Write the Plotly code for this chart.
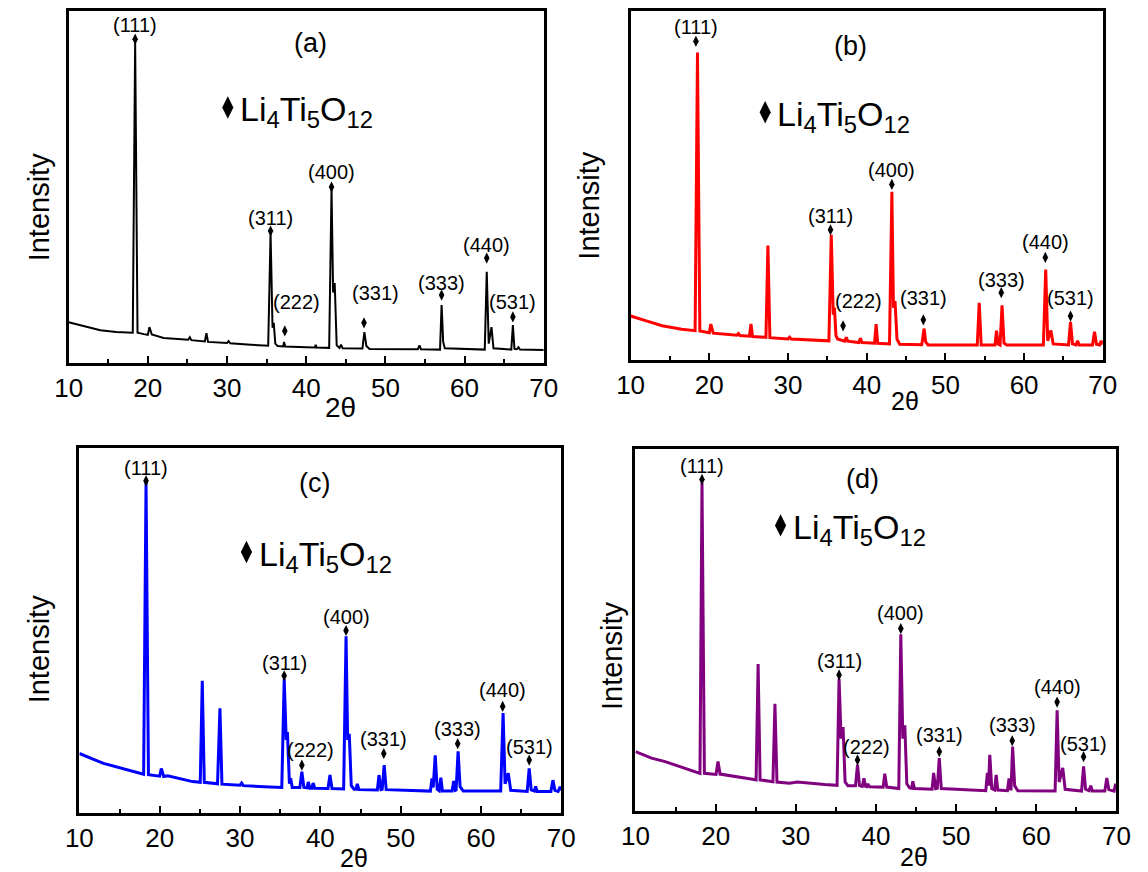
import plotly.graph_objects as go

W, H = 1148, 872

# ---------------- data (2-theta in degrees, intensity in a.u., 0-100 per panel) ----------------
tt_a = [10, 11, 12, 14, 16, 17.9, 18.1, 18.4, 18.7, 19.5, 20.0, 20.2, 20.5, 22, 25.1, 25.3, 25.5,
        27.2, 27.4, 27.6, 30.0, 30.2, 30.4, 33, 35.2, 35.5, 35.75, 35.9, 36.1, 36.4, 37.1, 37.2, 37.35,
        40, 41.1, 41.2, 41.3, 42.9, 43.2, 43.4, 43.6, 43.85, 44.2, 44.4, 44.6, 47.1, 47.35, 47.6, 48,
        54.1, 54.3, 54.5, 56.9, 57.1, 57.3, 57.5, 62.55, 62.8, 63.05, 63.4, 63.65, 65.9, 66.1, 66.3,
        66.6, 66.8, 67.0, 70]
int_a = [11.6, 11.0, 10.3, 9.3, 8.8, 8.5, 8.6, 91.2, 8.6, 8.2, 8.0, 10.2, 8.1, 7.1, 6.6, 7.3, 6.5,
         6.1, 8.5, 6.0, 5.7, 6.2, 5.6, 5.2, 4.9, 36.9, 10.0, 11.4, 5.5, 4.8, 4.7, 6.0, 4.7,
         4.5, 4.4, 5.2, 4.4, 4.3, 49.7, 20.0, 22.7, 5.0, 4.3, 5.2, 4.2, 4.1, 8.8, 4.8, 4.0,
         3.9, 5.0, 3.9, 3.8, 16.5, 6.0, 4.2, 3.8, 25.9, 5.5, 10.2, 4.2, 3.8, 10.8, 4.0,
         3.9, 4.5, 3.8, 3.7]

tt_b = [10, 11, 12, 14, 16.5, 18.2, 18.5, 18.8, 20.0, 20.2, 20.5, 23.5, 23.7, 23.9, 25.1, 25.3, 25.5,
        27.2, 27.45, 27.7, 30.0, 30.2, 30.4, 35.2, 35.5, 35.75, 35.9, 36.1, 36.3, 37.2, 37.4, 37.6,
        39.0, 39.2, 39.4, 41.0, 41.2, 41.4, 42.9, 43.2, 43.4, 43.6, 43.85, 44.2, 47.0, 47.3, 47.5, 47.8,
        54.05, 54.3, 54.55, 56.3, 56.5, 56.7, 56.95, 57.2, 57.45, 57.8, 62.45, 62.75, 63.0, 63.4, 63.7,
        65.65, 65.9, 66.15, 66.6, 66.8, 67.0, 68.7, 68.95, 69.2, 69.6, 69.8, 70]
int_b = [12.6, 11.8, 11.2, 9.8, 8.8, 8.4, 88.1, 8.3, 7.8, 10.3, 7.7, 7.1, 7.6, 7.0, 6.8, 10.3, 6.7,
         6.5, 32.8, 6.4, 6.0, 6.5, 6.0, 5.5, 35.9, 13.0, 15.0, 7.0, 6.0, 5.4, 6.5, 5.4,
         5.0, 6.2, 5.0, 4.8, 10.3, 4.8, 4.6, 48.2, 15.0, 16.9, 6.0, 4.5, 4.4, 9.0, 5.2, 4.3,
         4.3, 16.4, 4.3, 4.3, 8.4, 4.6, 4.3, 15.7, 4.8, 4.3, 4.3, 25.9, 5.5, 8.5, 4.6,
         4.3, 10.9, 4.6, 4.3, 5.5, 4.3, 4.3, 8.1, 4.5, 4.3, 5.5, 4.5]

tt_c = [10, 11, 12, 13, 15.2, 17.4, 18.0, 18.3, 18.6, 20.0, 20.2, 20.5, 21.0, 24.1, 25.05, 25.3, 25.55,
        27.2, 27.5, 27.75, 30.0, 30.2, 30.4, 33, 35.2, 35.5, 35.75, 35.9, 36.15, 36.3, 36.5,
        37.45, 37.7, 37.95, 38.35, 38.5, 38.7, 38.95, 39.1, 39.3, 40.95, 41.2, 41.45,
        42.9, 43.2, 43.4, 43.6, 43.85, 44.2, 44.45, 44.6, 44.8, 47.1, 47.3, 47.55, 47.7, 47.95, 48.2,
        53.7, 53.9, 54.05, 54.3, 54.55, 54.8, 55.0, 55.2, 56.4, 56.6, 56.8, 56.9, 57.15, 57.4, 57.8,
        62.45, 62.75, 63.0, 63.4, 63.7, 65.75, 66.0, 66.25, 66.65, 66.8, 67.0, 68.7, 68.95, 69.2,
        69.6, 69.85, 70]
int_c = [16.3, 15.3, 14.5, 13.6, 12.2, 10.9, 10.6, 90.5, 10.5, 10.1, 12.2, 10.0, 10.2, 8.6, 8.4, 36.2, 8.4,
         8.0, 28.7, 7.9, 7.6, 8.2, 7.5, 7.2, 7.0, 36.7, 20.0, 22.2, 8.0, 9.5, 7.0,
         7.0, 11.3, 7.0, 6.9, 8.5, 6.8, 6.8, 8.2, 6.8, 6.7, 10.4, 6.7,
         6.6, 48.4, 20.0, 21.7, 7.5, 6.5, 6.5, 8.0, 6.4, 6.3, 10.4, 6.4, 6.5, 13.1, 6.4,
         6.0, 9.5, 7.0, 15.8, 6.5, 6.1, 9.7, 6.0, 6.0, 8.8, 6.2, 6.3, 16.9, 7.2, 6.0,
         6.0, 27.4, 8.0, 10.9, 6.2, 5.9, 12.2, 6.3, 6.0, 7.3, 5.9, 5.9, 9.0, 6.2,
         5.9, 7.2, 6.2]

tt_d = [10, 11, 12, 13.6, 15.9, 17.9, 18.05, 18.3, 18.6, 20.05, 20.3, 20.55, 21.2, 24.8, 25.05, 25.3, 25.55,
        27.15, 27.4, 27.65, 29.2, 30.2, 33.6, 35.15, 35.4, 35.65, 35.9, 36.15, 36.5, 37.45, 37.7, 37.95,
        38.3, 38.5, 38.7, 38.85, 39.0, 39.2, 40.9, 41.1, 41.35, 42.85, 43.1, 43.35, 43.6, 43.85, 44.2,
        44.45, 44.6, 44.8, 47.0, 47.2, 47.45, 47.65, 47.9, 48.15, 53.7, 53.9, 54.05, 54.2, 54.45, 54.8,
        55.0, 55.2, 56.4, 56.6, 56.8, 56.85, 57.05, 57.3, 57.7, 62.35, 62.6, 62.85, 63.3, 63.6,
        65.65, 65.9, 66.15, 66.6, 66.8, 67.0, 68.55, 68.8, 69.05, 69.7, 69.9, 70]
int_d = [16.4, 15.4, 14.6, 13.7, 11.9, 10.5, 10.4, 90.7, 10.4, 10.1, 13.7, 10.2, 10.0, 8.7, 8.6, 40.6, 8.6,
         8.1, 29.6, 8.0, 7.7, 8.0, 7.3, 7.1, 36.5, 20.0, 23.2, 8.0, 7.0, 7.0, 12.8, 7.0,
         6.8, 9.0, 6.8, 6.7, 7.5, 6.7, 6.6, 10.3, 6.6, 6.2, 48.8, 20.0, 23.7, 7.5, 6.4,
         6.3, 8.2, 6.2, 6.0, 10.5, 6.2, 6.3, 14.6, 6.2, 5.6, 10.5, 7.0, 15.5, 6.2, 5.8,
         10.0, 5.8, 5.6, 9.0, 5.8, 6.0, 17.8, 7.0, 5.6, 5.5, 27.8, 8.0, 11.9, 6.0,
         5.5, 12.3, 6.0, 5.6, 7.0, 5.5, 5.5, 9.1, 5.9, 5.5, 7.5, 6.5]

# Li4Ti5O12 reflections (diamond markers)
hkl = ["(111)", "(311)", "(222)", "(400)", "(331)", "(333)", "(440)", "(531)"]
mark_tt_a = [18.4, 35.5, 37.3, 43.2, 47.3, 57.1, 62.8, 66.1]
mark_int_a = [92.0, 37.5, 9.1, 50.0, 11.4, 19.3, 29.8, 13.1]
mark_tt_b = [18.3, 35.4, 37.0, 43.2, 47.2, 57.1, 62.7, 65.9]
mark_int_b = [91.3, 37.3, 9.8, 50.3, 11.5, 19.3, 29.4, 12.6]
mark_tt_c = [18.3, 35.5, 37.7, 43.2, 47.9, 57.1, 62.7, 66.0]
mark_int_c = [91.0, 37.6, 13.1, 50.0, 16.3, 19.0, 29.2, 14.5]
mark_tt_d = [18.3, 35.4, 37.7, 43.1, 47.9, 57.0, 62.6, 65.9]
mark_int_d = [91.6, 37.6, 14.1, 50.4, 16.4, 19.4, 30.1, 15.0]

panel_tags = ["(a)", "(b)", "(c)", "(d)"]
phase_name = "Li<sub>4</sub>Ti<sub>5</sub>O<sub>12</sub>"
x_title = "2θ"
y_title = "Intensity"
x_ticks = [10, 20, 30, 40, 50, 60, 70]

# ---------------- layout / style ----------------
FONT = "Arial, Liberation Sans, sans-serif"


def px_x(p):
    return p / W


def px_y(p):
    return 1 - p / H


panels = [
    dict(tt=tt_a, I=int_a, mx=mark_tt_a, my=mark_int_a, color="#000000", lw=2,
         box=(56, 543, 11, 363),
         lab_dx=[0, 0, 12, 0, 11, 0, 0, 0], lab_dy=[14, 13, 29, 15, 30, 12, 13, 15],
         tag_pos=(40.6, 91.0), leg_dia=(30.1, 72.6), leg_txt=(31.4, 72.6),
         xt=(335, 407, 28), yt=(26, 207)),
    dict(tt=tt_b, I=int_b, mx=mark_tt_b, my=mark_int_b, color="#ff0000", lw=3,
         box=(632, 1116, 11, 360),
         lab_dx=[0, 0, 15, 0, 0, 0, 0, 0], lab_dy=[14, 14, 25, 14, 22, 13, 15, 18],
         tag_pos=(37.9, 90.0), leg_dia=(27.1, 71.0), leg_txt=(28.4, 71.0),
         xt=(913, 401, 25), yt=(589, 205)),
    dict(tt=tt_c, I=int_c, mx=mark_tt_c, my=mark_int_c, color="#0000ff", lw=3,
         box=(67, 561, 448, 813),
         lab_dx=[0, 0, 9, 0, 0, 0, 0, 0], lab_dy=[13, 13, 15, 14, 15, 15, 16, 13],
         tag_pos=(39.3, 90.5), leg_dia=(30.8, 71.5), leg_txt=(32.1, 71.5),
         xt=(349, 858, 25), yt=(26, 649)),
    dict(tt=tt_d, I=int_d, mx=mark_tt_d, my=mark_int_d, color="#800080", lw=3,
         box=(637, 1130, 449, 811),
         lab_dx=[0, 0, 9, 0, 0, 0, 0, 0], lab_dy=[13, 14, 13, 16, 17, 16, 15, 13],
         tag_pos=(38.3, 91.6), leg_dia=(28.1, 78.9), leg_txt=(29.4, 78.9),
         xt=(923, 857, 25), yt=(613, 656)),
]

fig = go.Figure()
annotations = []
layout_axes = {}

for i, p in enumerate(panels):
    n = "" if i == 0 else str(i + 1)
    xa, ya = "x" + n, "y" + n
    l, r, t, b = p["box"]

    fig.add_trace(go.Scatter(x=p["tt"], y=p["I"], mode="lines",
                             line=dict(color=p["color"], width=p["lw"]),
                             xaxis=xa, yaxis=ya, showlegend=False, hoverinfo="skip"))
    fig.add_trace(go.Scatter(x=p["mx"], y=p["my"], mode="markers",
                             marker=dict(symbol="diamond-tall", size=8, color="black",
                                         line=dict(width=0)),
                             xaxis=xa, yaxis=ya, showlegend=False, hoverinfo="skip"))
    fig.add_trace(go.Scatter(x=[p["leg_dia"][0]], y=[p["leg_dia"][1]], mode="markers",
                             marker=dict(symbol="diamond-tall", size=16, color="black",
                                         line=dict(width=0)),
                             xaxis=xa, yaxis=ya, showlegend=False, hoverinfo="skip"))

    for k, lab in enumerate(hkl):
        annotations.append(dict(x=p["mx"][k], y=p["my"][k], xref=xa, yref=ya, text=lab,
                                showarrow=False, xanchor="center", yanchor="middle",
                                xshift=p["lab_dx"][k], yshift=p["lab_dy"][k],
                                font=dict(family=FONT, size=20, color="black")))
    annotations.append(dict(x=p["tag_pos"][0], y=p["tag_pos"][1], xref=xa, yref=ya,
                            text=panel_tags[i], showarrow=False, xanchor="center",
                            yanchor="middle", font=dict(family=FONT, size=27, color="black")))
    annotations.append(dict(x=p["leg_txt"][0], y=p["leg_txt"][1], xref=xa, yref=ya,
                            text=phase_name, showarrow=False, xanchor="left",
                            yanchor="middle", yshift=-4,
                            font=dict(family=FONT, size=34, color="black")))
    annotations.append(dict(x=px_x(p["xt"][0]), y=px_y(p["xt"][1]), xref="paper", yref="paper",
                            text=x_title, showarrow=False, xanchor="center", yanchor="middle",
                            font=dict(family=FONT, size=p["xt"][2], color="black")))
    annotations.append(dict(x=px_x(p["yt"][0]), y=px_y(p["yt"][1]), xref="paper", yref="paper",
                            text=y_title, showarrow=False, xanchor="center", yanchor="middle",
                            textangle=-90, font=dict(family=FONT, size=29, color="black")))

    layout_axes["xaxis" + n] = dict(
        domain=[px_x(l), px_x(r)], range=[10, 70], anchor=ya,
        tickmode="array", tickvals=x_ticks, ticktext=[str(v) for v in x_ticks],
        ticks="inside", ticklen=7, tickwidth=2, tickcolor="black",
        minor=dict(ticks="inside", ticklen=4, tickwidth=2, tickcolor="black",
                   tickvals=[15, 25, 35, 45, 55, 65], showgrid=False),
        showline=True, linewidth=3, linecolor="black", mirror=True,
        showgrid=False, zeroline=False,
        tickfont=dict(family=FONT, size=26, color="black"))
    layout_axes["yaxis" + n] = dict(
        domain=[px_y(b), px_y(t)], range=[0, 100], anchor=xa,
        showticklabels=False, ticks="", showline=True, linewidth=3, linecolor="black",
        mirror=True, showgrid=False, zeroline=False)

fig.update_layout(width=W, height=H, margin=dict(l=0, r=0, t=0, b=0),
                  paper_bgcolor="white", plot_bgcolor="white",
                  annotations=annotations, showlegend=False, **layout_axes)

fig.write_html("out.html")
